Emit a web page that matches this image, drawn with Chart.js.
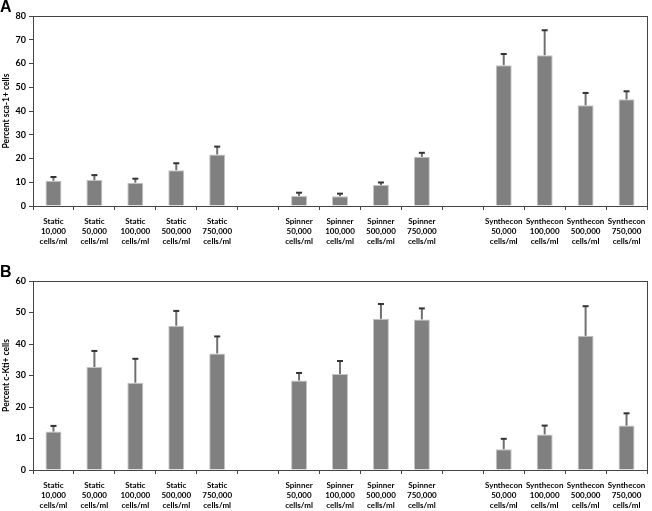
<!DOCTYPE html>
<html>
<head>
<meta charset="utf-8">
<script src="https://cdn.jsdelivr.net/npm/chart.js@4.4.1/dist/chart.umd.min.js"></script>
<style>
  html, body { margin: 0; padding: 0; background: #fff; }
  .panel { position: relative; width: 652px; }
  #panelA { height: 250px; }
  #panelB { height: 261px; }
</style>
</head>
<body>
<div class="panel" id="panelA"><canvas id="chartA"></canvas></div>
<div class="panel" id="panelB"><canvas id="chartB"></canvas></div>
<script>
// categories (empty entries are the gaps between culture types)
var categories = [
  ['Static', '10,000', 'cells/ml'],
  ['Static', '50,000', 'cells/ml'],
  ['Static', '100,000', 'cells/ml'],
  ['Static', '500,000', 'cells/ml'],
  ['Static', '750,000', 'cells/ml'],
  [''],
  ['Spinner', '50,000', 'cells/ml'],
  ['Spinner', '100,000', 'cells/ml'],
  ['Spinner', '500,000', 'cells/ml'],
  ['Spinner', '750,000', 'cells/ml'],
  [''],
  ['Synthecon', '50,000', 'cells/ml'],
  ['Synthecon', '100,000', 'cells/ml'],
  ['Synthecon', '500,000', 'cells/ml'],
  ['Synthecon', '750,000', 'cells/ml']
];

// panel A - sca-1+
var sca1Values = [10.6, 10.9, 9.8, 15.1, 21.7, null, 4.2, 4.1, 8.8, 20.7, null, 59.3, 63.5, 42.4, 44.9];
var sca1ErrTop = [12.2, 13.0, 11.5, 18.0, 25.0, null, 5.6, 5.2, 9.9, 22.4, null, 64.0, 74.0, 47.6, 48.3];

// panel B - c-Kit+
var ckitValues = [12.2, 32.7, 27.7, 45.8, 37.0, null, 28.4, 30.5, 48.0, 47.8, null, 6.6, 11.3, 42.6, 14.1];
var ckitErrTop = [14.0, 37.8, 35.3, 50.5, 42.4, null, 30.8, 34.6, 52.7, 51.3, null, 9.9, 14.1, 52.0, 18.0];

var fontFam = 'Lato, "Open Sans", sans-serif';

// error bars (upper only) + frame around plot area
var errorBars = {
  id: 'errorBars',
  afterDatasetsDraw: function (chart, args, opts) {
    var ctx = chart.ctx;
    var meta = chart.getDatasetMeta(0);
    var ys = chart.scales.y;
    ctx.save();
    opts.tops.forEach(function (top, i) {
      var v = chart.data.datasets[0].data[i];
      if (top == null || v == null) return;
      var bar = meta.data[i];
      var y0 = ys.getPixelForValue(v);
      var y1 = ys.getPixelForValue(top);
      ctx.strokeStyle = '#707070';
      ctx.lineWidth = 2;
      ctx.beginPath();
      ctx.moveTo(bar.x, y0);
      ctx.lineTo(bar.x, y1);
      ctx.stroke();
      ctx.strokeStyle = '#333';
      ctx.beginPath();
      ctx.moveTo(bar.x - 3, y1);
      ctx.lineTo(bar.x + 3, y1);
      ctx.stroke();
    });
    var a = chart.chartArea;
    ctx.strokeStyle = '#444';
    ctx.lineWidth = 1;
    ctx.strokeRect(Math.round(a.left) + 0.5, Math.round(a.top) + 0.5,
      Math.round(a.right - a.left), Math.round(a.bottom - a.top));
    ctx.restore();
  }
};

function makeChart(id, letter, values, tops, yMax, yTitle, topPad, xHeight) {
  return new Chart(document.getElementById(id), {
    type: 'bar',
    data: {
      labels: categories,
      datasets: [{
        data: values,
        backgroundColor: '#808080',
        borderColor: '#c4c4c4',
        borderWidth: 1,
        barPercentage: 0.39,
        categoryPercentage: 1
      }]
    },
    plugins: [errorBars],
    options: {
      responsive: true,
      maintainAspectRatio: false,
      animation: false,
      layout: { padding: { top: topPad, left: 0, right: 5, bottom: 0 } },
      plugins: {
        legend: { display: false },
        tooltip: { enabled: false },
        title: {
          display: true,
          text: letter,
          align: 'start',
          color: '#000',
          font: { family: 'Arial, "Liberation Sans", sans-serif', size: 16, weight: 'bold', lineHeight: 1 },
          padding: { top: 0, bottom: 0 }
        },
        errorBars: { tops: tops }
      },
      scales: {
        x: {
          offset: true,
          afterFit: function (s) { s.height = xHeight; },
          grid: { offset: true, drawOnChartArea: false, tickLength: 4, color: '#444' },
          border: { color: '#444' },
          ticks: {
            color: '#000',
            autoSkip: false,
            maxRotation: 0,
            padding: 6,
            font: { family: fontFam, size: 8, weight: 'bold', lineHeight: 1.25 }
          }
        },
        y: {
          min: 0,
          max: yMax,
          afterFit: function (s) { s.width = 33; },
          grid: { drawOnChartArea: false, tickLength: 4, color: '#444' },
          border: { color: '#444' },
          ticks: {
            stepSize: 10,
            color: '#000',
            padding: 3,
            font: { family: fontFam, size: 9, weight: 'bold' }
          },
          title: {
            display: true,
            text: yTitle,
            color: '#000',
            padding: { top: 1, bottom: 0 },
            font: { family: fontFam, size: 8.5, weight: 'bold' }
          }
        }
      }
    }
  });
}

makeChart('chartA', 'A', sca1Values, sca1ErrTop, 80, 'Percent sca-1+ cells', 0, 44);
makeChart('chartB', 'B', ckitValues, ckitErrTop, 60, 'Percent c-Kti+ cells', 15, 41);
</script>
</body>
</html>
